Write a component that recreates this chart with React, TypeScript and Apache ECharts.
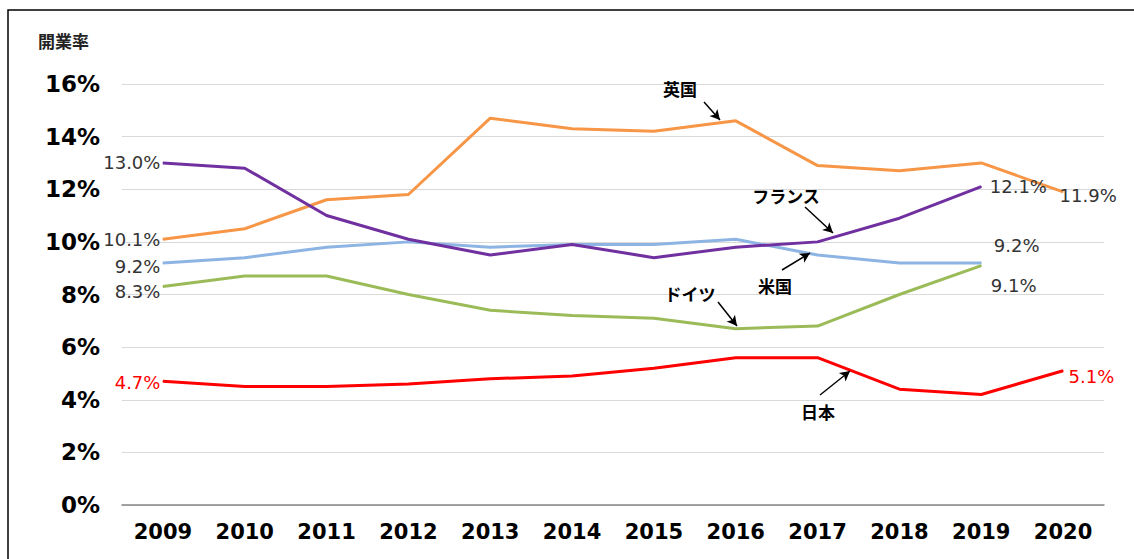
import React, { useEffect, useRef } from "react";
import * as echarts from "echarts";

const years = ["2009", "2010", "2011", "2012", "2013", "2014", "2015", "2016", "2017", "2018", "2019", "2020"];
const uk = [10.1, 10.5, 11.6, 11.8, 14.7, 14.3, 14.2, 14.6, 12.9, 12.7, 13.0, 11.9];
const france = [13.0, 12.8, 11.0, 10.1, 9.5, 9.9, 9.4, 9.8, 10.0, 10.9, 12.1, null];
const usa = [9.2, 9.4, 9.8, 10.0, 9.8, 9.9, 9.9, 10.1, 9.5, 9.2, 9.2, null];
const germany = [8.3, 8.7, 8.7, 8.0, 7.4, 7.2, 7.1, 6.7, 6.8, 8.0, 9.1, null];
const japan = [4.7, 4.5, 4.5, 4.6, 4.8, 4.9, 5.2, 5.6, 5.6, 4.4, 4.2, 5.1];
const yTicks = [0, 2, 4, 6, 8, 10, 12, 14, 16];

const fmt = (v: number) => v.toFixed(1) + "%";

type LabelSpec = { idx: number; position: string; distance?: number; offset?: number[] };

function build(values: (number | null)[], specs: LabelSpec[], color: string) {
  return values.map((v, i) => {
    const s = specs.find((x) => x.idx === i);
    if (!s || v == null) return v;
    return {
      value: v,
      label: {
        show: true,
        position: s.position,
        distance: s.distance ?? 4,
        offset: s.offset ?? [0, 0],
        formatter: fmt(v),
        color,
        fontSize: 18,
        fontFamily: "DejaVu Sans",
      },
    };
  });
}

export default function App() {
  const ref = useRef<HTMLDivElement>(null);
  useEffect(() => {
    const chart = echarts.init(ref.current!, null, { renderer: "svg" });
    const dark = "#333333";
    const lineSeries = (name: string, data: any[], color: string, extra: any = {}) => ({
      name,
      type: "line",
      data,
      symbol: "circle",
      symbolSize: 1,
      showSymbol: true,
      connectNulls: false,
      lineStyle: { color, width: 3 },
      itemStyle: { color },
      label: { show: false },
      z: 3,
      ...extra,
    });
    const arrows = [
      [{ x: 704, y: 102 }, { x: 720, y: 120 }],
      [{ x: 805, y: 207 }, { x: 833, y: 233 }],
      [{ x: 782, y: 270 }, { x: 810, y: 253 }],
      [{ x: 718, y: 302 }, { x: 737, y: 326 }],
      [{ x: 820, y: 395 }, { x: 850, y: 371 }],
    ];
    const texts = [
      { t: "英国", x: 680, y: 88 },
      { t: "フランス", x: 786, y: 195 },
      { t: "米国", x: 775, y: 285 },
      { t: "ドイツ", x: 690, y: 293 },
      { t: "日本", x: 818, y: 411 },
    ];
    chart.setOption({
      animation: false,
      grid: { left: 122, right: 30, top: 84, bottom: 54 },
      xAxis: {
        type: "category",
        data: years,
        boundaryGap: true,
        axisLine: { lineStyle: { color: "#868686", width: 1.5 } },
        axisTick: { show: false },
        axisLabel: {
          color: "#000",
          fontWeight: "bold",
          fontSize: 21,
          fontFamily: "DejaVu Sans",
          margin: 16,
        },
      },
      yAxis: {
        type: "value",
        min: yTicks[0],
        max: yTicks[yTicks.length - 1],
        interval: 2,
        axisLine: { show: false },
        axisTick: { show: false },
        splitLine: { lineStyle: { color: "#d9d9d9", width: 1 } },
        axisLabel: {
          formatter: "{value}%",
          color: "#000",
          fontWeight: "bold",
          fontSize: 23,
          fontFamily: "DejaVu Sans",
          margin: 22,
        },
      },
      graphic: [
        {
          type: "rect",
          shape: { x: 8, y: 10, width: 1140, height: 570 },
          style: { fill: "none", stroke: "#000", lineWidth: 1.5 },
          silent: true,
        },
        {
          type: "text",
          x: 38,
          y: 40,
          style: {
            text: "開業率",
            fill: "#222",
            font: "bold 17px 'Noto Sans CJK JP'",
            textVerticalAlign: "middle",
          },
        },
        ...texts.map((d) => ({
          type: "text",
          x: d.x,
          y: d.y,
          style: {
            text: d.t,
            fill: "#000",
            font: "bold 17px 'Noto Sans CJK JP'",
            textAlign: "center",
            textVerticalAlign: "middle",
          },
          z: 10,
        })),
      ],
      series: [
        lineSeries(
          "英国",
          build(uk, [
            { idx: 0, position: "left", distance: 2 },
            { idx: 11, position: "right", distance: -4, offset: [0, 4] },
          ], dark),
          "#F79646"
        ),
        lineSeries(
          "フランス",
          build(france, [
            { idx: 0, position: "left", distance: 2 },
            { idx: 10, position: "right", distance: 8 },
          ], dark),
          "#7030A0"
        ),
        lineSeries(
          "米国",
          build(usa, [
            { idx: 0, position: "left", distance: 2, offset: [0, 4] },
            { idx: 10, position: "right", distance: 12, offset: [0, -17] },
          ], dark),
          "#8DB4E2",
          { z: 2 }
        ),
        lineSeries(
          "ドイツ",
          build(germany, [
            { idx: 0, position: "left", distance: 2, offset: [0, 5] },
            { idx: 10, position: "right", distance: 9, offset: [0, 20] },
          ], dark),
          "#9BBB59"
        ),
        lineSeries(
          "日本",
          build(japan, [
            { idx: 0, position: "left", distance: 2, offset: [0, 1] },
            { idx: 11, position: "right", distance: 5, offset: [0, 6] },
          ], "#FF0000"),
          "#FF0000",
          {
            markLine: {
              silent: true,
              symbol: ["none", "arrow"],
              symbolSize: [8, 10],
              label: { show: false },
              lineStyle: { color: "#000", width: 1.5, type: "solid" },
              data: arrows,
            },
          }
        ),
      ],
    });
    return () => chart.dispose();
  }, []);
  return (
    <div
      ref={ref}
      style={{ position: "fixed", left: 0, top: 0, width: 1134, height: 559, background: "#fff" }}
    />
  );
}
